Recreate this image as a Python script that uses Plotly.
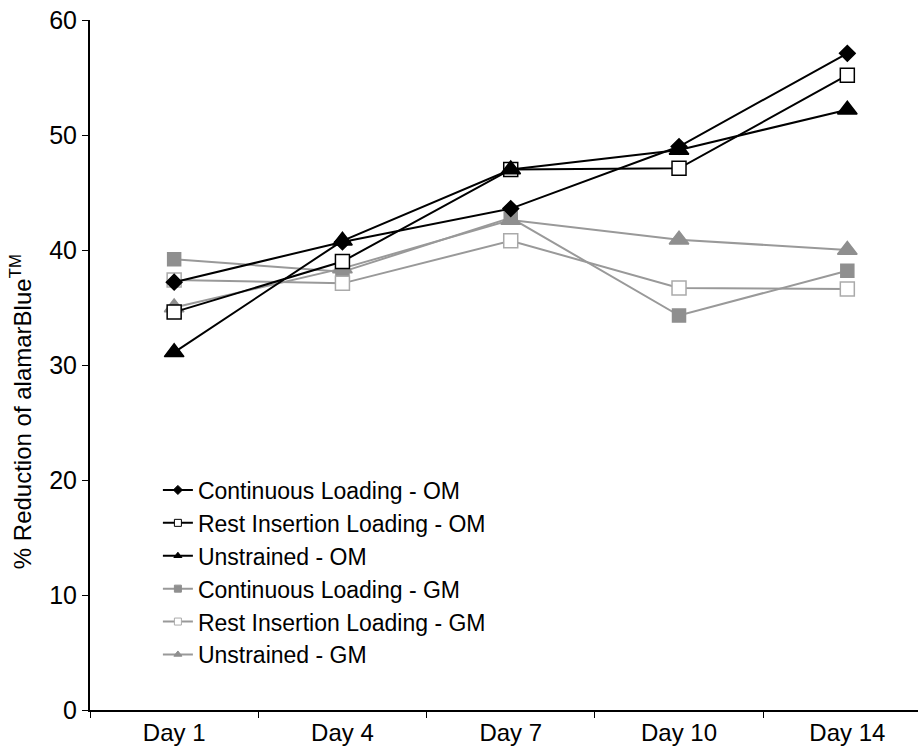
import plotly.graph_objects as go

days = ["Day 1", "Day 4", "Day 7", "Day 10", "Day 14"]
cont_om = [37.2, 40.7, 43.6, 49.0, 57.1]
rest_om = [34.6, 39.0, 47.0, 47.1, 55.2]
unst_om = [31.1, 40.8, 47.0, 48.7, 52.2]
cont_gm = [39.2, 38.1, 42.8, 34.3, 38.2]
rest_gm = [37.4, 37.1, 40.8, 36.7, 36.6]
unst_gm = [35.0, 38.4, 42.6, 40.9, 40.0]

names = ["Continuous Loading - OM", "Rest Insertion Loading - OM", "Unstrained - OM",
         "Continuous Loading - GM", "Rest Insertion Loading - GM", "Unstrained - GM"]

BLACK = "#000000"
GRAY = "#999999"
GFILL = "#8f8f8f"

styles = [
    dict(line=BLACK, sym="diamond", fill=BLACK, border=BLACK, size=12),
    dict(line=BLACK, sym="square", fill="white", border=BLACK, size=14),
    dict(line=BLACK, sym="triangle-up", fill=BLACK, border=BLACK, size=17),
    dict(line=GRAY, sym="square", fill=GFILL, border=GFILL, size=13),
    dict(line=GRAY, sym="square", fill="white", border="#aaaaaa", size=14),
    dict(line=GRAY, sym="triangle-up", fill=GFILL, border=GFILL, size=17),
]
series = [cont_om, rest_om, unst_om, cont_gm, rest_gm, unst_gm]

fig = go.Figure()
order = [3, 4, 5, 0, 1, 2]
for i in order:
    s = styles[i]
    fig.add_trace(go.Scatter(
        x=days, y=series[i], mode="lines+markers", name=names[i], showlegend=False,
        line=dict(color=s["line"], width=2),
        marker=dict(symbol=s["sym"], size=s["size"], color=s["fill"],
                    line=dict(color=s["border"], width=1.5)),
    ))
for i in range(6):
    s = styles[i]
    fig.add_trace(go.Scatter(
        x=[None], y=[None], mode="lines+markers", name=names[i], showlegend=True,
        line=dict(color=s["line"], width=2),
        marker=dict(symbol=s["sym"], size=7, color=s["fill"],
                    line=dict(color=s["border"], width=1)),
    ))

fig.update_layout(
    width=918, height=749,
    margin=dict(l=90, r=0, t=20, b=39),
    plot_bgcolor="white", paper_bgcolor="white",
    font=dict(family="Liberation Sans, Arial, sans-serif", size=24, color="black"),
    showlegend=True,
    legend=dict(x=0.082, y=0.35, xanchor="left", yanchor="top",
                bgcolor="rgba(0,0,0,0)", font=dict(size=23), tracegroupgap=0,
                itemwidth=30),
    xaxis=dict(type="category", categoryorder="array", categoryarray=days,
               range=[-0.5, 4.42], showline=True, linecolor="black", linewidth=2,
               ticks="outside", tickson="boundaries", ticklen=6, tickcolor="black",
               showgrid=False, zeroline=False, tickfont=dict(size=24)),
    yaxis=dict(range=[0, 60], tickvals=[0, 10, 20, 30, 40, 50, 60],
               showline=True, linecolor="black", linewidth=2,
               ticks="outside", ticklen=6, tickcolor="black",
               showgrid=False, zeroline=False, tickfont=dict(size=25)),
    annotations=[dict(text="% Reduction of alamarBlue<sup>TM</sup>", textangle=-90,
                      xref="paper", yref="paper", x=-0.083, y=0.432,
                      xanchor="center", yanchor="middle", showarrow=False,
                      font=dict(size=24))],
)

fig.write_html("out.html")
